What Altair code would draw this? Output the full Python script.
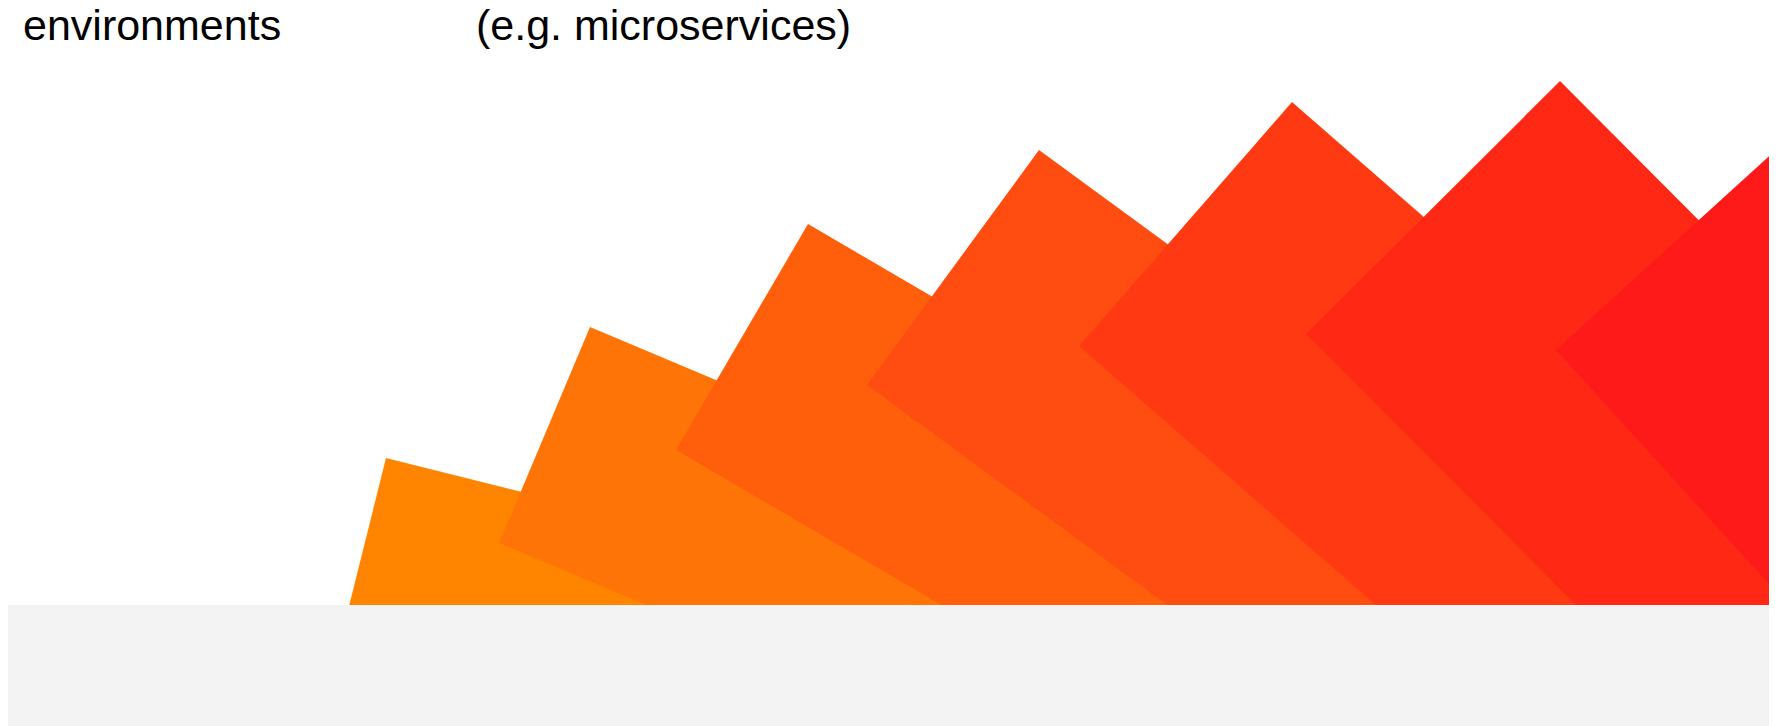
import altair as alt
import pandas as pd

# Rotated tiles (fan of rectangles), in page-pixel units: top corner, rotation, short side
tile_color = ["#FF8500", "#FF7407", "#FF5F0B", "#FF4C10", "#FF3A13", "#FF2815", "#FF1A1A"]
tile_top_x = [386, 590, 808, 1039, 1292, 1560, 1849.6]
tile_top_y = [458, 327, 224, 150, 102, 81, 82.8]
tile_side = [210, 234.4, 261.7, 291.2, 323.9, 358.5, 397]
tile_angle = [14, 22.8, 30.3, 36.2, 41.1, 45.1, 47.7]
tile_ratio = [2.2, 2.2, 2.2, 2.2, 2.2, 2.2, 2.2]

# Grey footer band (extends past the page bottom)
band_x = [-20]
band_x2 = [1800]
band_y = [605]
band_y2 = [800]

# Labels
label_text = ["environments", "(e.g. microservices)"]
label_x = [23, 476]
label_y = [40, 40]

W, H = 1761, 718
xs = alt.Scale(domain=[8, 8 + W], range=[0, W])
ys = alt.Scale(domain=[8, 8 + H], range=[0, H])

tiles = pd.DataFrame({
    "tx": tile_top_x,
    "ty": tile_top_y,
    "size": [s * s for s in tile_side],
    "angle": tile_angle,
    "color": tile_color,
    "shape": ["M0,0H%gV2H0Z" % (2 * r) for r in tile_ratio],
    "order": list(range(len(tile_top_x))),
})
band = pd.DataFrame({"x": band_x, "x2": band_x2, "y": band_y, "y2": band_y2})
labels = pd.DataFrame({"text": label_text, "x": label_x, "y": label_y})

tile_layer = alt.Chart(tiles).mark_point(filled=True, opacity=1, strokeWidth=0).encode(
    x=alt.X("tx:Q", scale=xs, axis=None),
    y=alt.Y("ty:Q", scale=ys, axis=None),
    size=alt.Size("size:Q", scale=None),
    angle=alt.Angle("angle:Q", scale=None),
    shape=alt.Shape("shape:N", scale=None),
    color=alt.Color("color:N", scale=None),
    order=alt.Order("order:Q"),
)

footer = alt.Chart(band).mark_rect(color="#F3F3F3").encode(
    x=alt.X("x:Q", scale=xs, axis=None),
    x2="x2:Q",
    y=alt.Y("y:Q", scale=ys, axis=None),
    y2="y2:Q",
)

text = alt.Chart(labels).mark_text(
    align="left", baseline="alphabetic", font="Liberation Sans", fontSize=43, color="#000000"
).encode(
    x=alt.X("x:Q", scale=xs, axis=None),
    y=alt.Y("y:Q", scale=ys, axis=None),
    text="text:N",
)

chart = alt.layer(tile_layer, footer, text).properties(
    width=W, height=H, autosize=alt.AutoSizeParams(type="none"), padding=0, background="#FFFFFF"
).configure_view(stroke=None)

chart.save("out.html", embed_options={"renderer": "svg", "actions": False})
